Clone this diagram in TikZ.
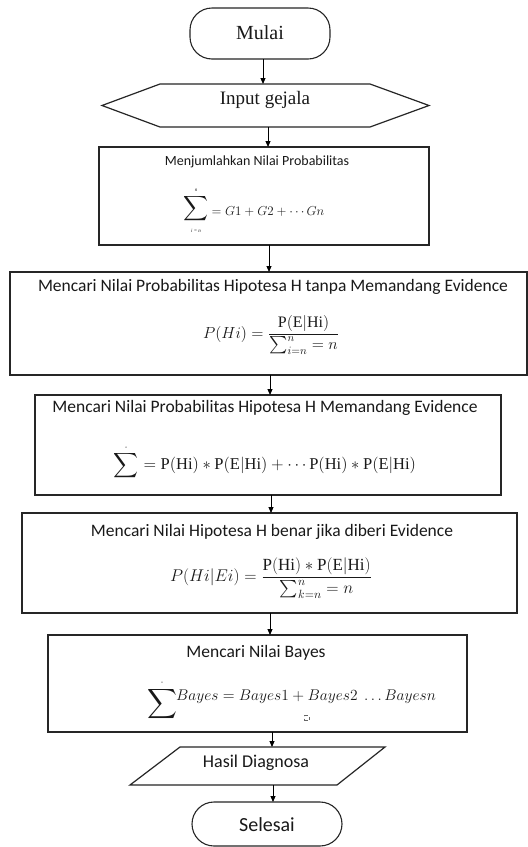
\RequirePackage{fix-cm}
\documentclass[tikz,border=0pt]{standalone}
\usepackage{amsmath}
\usepackage{fontspec}
\setmainfont{Liberation Serif}
\newfontfamily\calfont{Carlito}
\usetikzlibrary{arrows.meta}
\begin{document}
\begin{tikzpicture}[x=1pt,y=-1pt,
  procbox/.style={draw=black!85, line width=1.3pt, inner sep=0pt, outer sep=0pt},
  termbox/.style={draw=black!85, line width=1.1pt, inner sep=0pt, outer sep=0pt, rounded corners=22pt},
  ioshape/.style={draw=black!85, line width=1.2pt, line join=miter},
  arr/.style={draw=black, line width=1pt, -{Triangle[length=6pt,width=5pt]}},
  lbl/.style={inner sep=0pt, outer sep=0pt, text=black!90},
  title/.style={lbl, font=\calfont\fontsize{17.5}{20}\selectfont},
]
\useasboundingbox (0,0) rectangle (528,847);
\fill[white] (0,0) rectangle (528,847);

% terminators
\node[termbox, minimum width=140pt, minimum height=51pt] (mulai) at (260,33.5) {};
\node[lbl, font=\fontsize{20}{24}\selectfont] (tmulai) at (260,33) {Mulai};

% input hexagon
\draw[ioshape] (160,84) -- (370,84) -- (429,105.5) -- (370,127) -- (160,127) -- (102,105.5) -- cycle;
\coordinate (hexT) at (263,84);
\coordinate (hexB) at (268,127);
\node[lbl, font=\fontsize{19}{22}\selectfont] (tinput) at (265,100) {Input gejala};

% process boxes
\node[procbox, minimum width=330pt, minimum height=98pt] (b1) at (264,196) {};
\node[procbox, minimum width=517pt, minimum height=103pt] (b2) at (268.5,323.5) {};
\node[procbox, minimum width=466pt, minimum height=100pt] (b3) at (268,445) {};
\node[procbox, minimum width=495pt, minimum height=100pt] (b4) at (269.5,563) {};
\node[procbox, minimum width=419pt, minimum height=97pt] (b5) at (257.5,683.5) {};

% box 1
\node[lbl, font=\calfont\fontsize{14}{16}\selectfont] (t1) at (257,162) {Menjumlahkan Nilai Probabilitas};
\node[lbl, font=\fontsize{16}{18}\selectfont] (s1) at (196,211) {$\displaystyle\sum\limits_{\text{\fontsize{5}{5}\selectfont\itshape i = n}}^{\text{\fontsize{5}{5}\selectfont\itshape n}}$};
\node[lbl, font=\fontsize{13}{15}\selectfont] (f1) at (268,212) {$= G1 + G2 + \cdots Gn$};

% box 2
\node[title] (t2) at (273,287) {Mencari Nilai Probabilitas Hipotesa H tanpa Memandang Evidence};
\node[lbl, font=\fontsize{16}{19}\selectfont] (f2) at (271,335) {$P(Hi) = \dfrac{\mathrm{P(E|Hi)}}{\sum_{i=n}^{n} = n}$};

% box 3
\node[title] (t3) at (265,408) {Mencari Nilai Probabilitas Hipotesa H Memandang Evidence};
\node[lbl, font=\fontsize{16.5}{19}\selectfont] (f3) at (265,462) {$\displaystyle\sum^{\text{\fontsize{3}{3}\selectfont n}} = \mathrm{P(Hi)} * \mathrm{P(E|Hi)} + \cdots \mathrm{P(Hi)} * \mathrm{P(E|Hi)}$};

% box 4
\node[title] (t4) at (272,532) {Mencari Nilai Hipotesa H benar jika diberi Evidence};
\node[lbl, font=\fontsize{17}{20}\selectfont] (f4) at (271,578) {$P(Hi|Ei) = \dfrac{\mathrm{P(Hi)} * \mathrm{P(E|Hi)}}{\sum_{k=n}^{n} = n}$};

% box 5
\node[title] (t5) at (256,653) {Mencari Nilai Bayes};
\node[lbl, font=\fontsize{22}{24}\selectfont] (s5) at (162,700) {$\displaystyle\sum^{\text{\fontsize{3}{3}\selectfont n}}$};
\node[lbl, font=\fontsize{15.5}{18}\selectfont] (f5) at (306,697) {$Bayes = Bayes1 + Bayes2\ \ldots Bayesn$};
\node[draw=black!60, dashed, line width=0.6pt, minimum size=5pt, inner sep=0pt] (sq) at (307,718) {};

% output parallelogram
\draw[ioshape] (180,747) -- (385,747) -- (337,785) -- (130,785) -- cycle;
\coordinate (parT) at (272,747);
\coordinate (parB) at (273,785);
\node[lbl, font=\calfont\fontsize{18}{21}\selectfont] (thasil) at (256,763) {Hasil Diagnosa};

\node[termbox, minimum width=150pt, minimum height=44pt] (selesai) at (267,824) {};
\node[lbl, font=\calfont\fontsize{20}{23}\selectfont] (tselesai) at (267,825) {Selesai};

% connector x positions
\coordinate (x3) at (269,0);
\coordinate (x4) at (270,0);
\coordinate (x5) at (271,0);

\draw[arr] (mulai.south -| hexT) -- (hexT);
\draw[arr] (hexB) -- (b1.north -| hexB);
\draw[arr] (b1.south -| x3) -- (b2.north -| x3);
\draw[arr] (b2.south -| x4) -- (b3.north -| x4);
\draw[arr] (b3.south -| x5) -- (b4.north -| x5);
\draw[arr] (b4.south -| x4) -- (b5.north -| x4);
\draw[arr] (b5.south -| parT) -- (parT);
\draw[arr] (parB) -- (selesai.north -| parB);
\end{tikzpicture}
\end{document}
